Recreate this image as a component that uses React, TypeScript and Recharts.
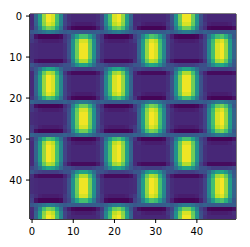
import { ReferenceArea, Scatter, ScatterChart, XAxis, YAxis } from "recharts";

// colormap position in percent; A rows have bars over columns 4/21/37, B rows over 12/29/46
const aCore = [12,32,55,84,99,94,70,46,20, 13,11,11,11,11,11,11,13, 20,46,70,94,99,84,55,32,12, 12,11,11,11,11,11,11,14, 25,50,78,98,98,78,50,25, 14,11,11,11,11,11,11,12];
const aShoulder = [12,31,54,82,95,90,68,45,20, 14,9,8,8,8,8,9,14, 20,45,68,90,95,82,54,31,12, 13,9,8,8,8,8,9,16, 24,49,76,94,94,76,49,24, 16,9,8,8,8,8,9,13];
const aNear = [12,28,49,76,89,85,63,40,16, 7,3,3,3,3,3,3,7, 16,40,63,85,89,76,49,28,12, 5,3,3,3,3,3,3,10, 19,44,70,88,88,70,44,19, 10,3,3,3,3,3,3,5];
const aEdge = [13,27,46,70,80,76,58,38,17, 8,2,1,1,1,1,2,8, 17,38,58,76,80,70,46,27,13, 4,1,1,1,1,1,2,13, 20,42,64,78,78,64,42,20, 13,2,1,1,1,1,1,4];
const aFade = [15,27,44,62,72,68,54,37,19, 9,2,1,1,1,1,2,9, 19,37,54,68,72,62,44,27,15, 5,1,1,1,1,1,3,15, 21,40,58,70,70,58,40,21, 15,3,1,1,1,1,1,5];
const aRim = [20,27,38,52,60,57,47,34,24, 24,20,18,18,18,18,20,24, 24,34,47,57,60,52,38,27,20, 22,19,18,18,18,18,21,25, 25,36,49,58,58,49,36,25, 25,21,18,18,18,18,19,22];
const aLine = [27,30,34,38,42,40,36,31,28, 30,29,28,28,28,28,29,30, 28,31,36,40,42,38,34,30,27, 29,28,28,28,28,28,29,31, 28,32,37,41,41,37,32,28, 31,29,28,28,28,28,28,29];

const bCore = [13,12,11,11,11,11,11,11,14, 25,50,78,98,98,78,50,25, 14,11,11,11,11,11,11,12,13, 32,55,84,99,94,70,46,20, 13,11,11,11,11,11,11,13, 20,46,70,94,99,84,55,32];
const bShoulder = [17,13,9,8,8,8,8,9,16, 24,49,76,94,94,76,49,24, 16,9,8,8,8,8,9,13,17, 31,54,82,95,90,68,45,20, 14,9,8,8,8,8,9,14, 20,45,68,90,95,82,54,31];
const bNear = [14,5,3,3,3,3,3,3,10, 19,44,70,88,88,70,44,19, 10,3,3,3,3,3,3,5,14, 28,49,76,89,85,63,40,16, 7,3,3,3,3,3,3,7, 16,40,63,85,89,76,49,28];
const bEdge = [17,4,1,1,1,1,1,2,13, 20,42,64,78,78,64,42,20, 13,2,1,1,1,1,1,4,17, 27,46,70,80,76,58,38,17, 8,2,1,1,1,1,2,8, 17,38,58,76,80,70,46,27];
const bFade = [19,5,1,1,1,1,1,3,15, 21,40,58,70,70,58,40,21, 15,3,1,1,1,1,1,5,19, 27,44,62,72,68,54,37,19, 9,2,1,1,1,1,2,9, 19,37,54,68,72,62,44,27];
const bRim = [27,22,19,18,18,18,18,21,25, 25,36,49,58,58,49,36,25, 25,21,18,18,18,18,19,22,27, 27,38,52,60,57,47,34,24, 24,20,18,18,18,18,20,24, 24,34,47,57,60,52,38,27];
const bLine = [32,29,28,28,28,28,28,29,31, 28,32,37,41,41,37,32,28, 31,29,28,28,28,28,28,29,32, 30,34,38,42,40,36,31,28, 30,29,28,28,28,28,29,30, 28,31,36,40,42,38,34,30];

const rows = [
  aCore, aCore, aShoulder, aEdge, aLine,
  bFade, bShoulder, bCore, bCore, bCore, bCore, bNear, bRim,
  aRim, aNear, aCore, aCore, aCore, aCore, aShoulder, aFade,
  bLine, bEdge, bShoulder, bCore, bCore, bCore, bShoulder, bEdge, bLine,
  aFade, aShoulder, aCore, aCore, aCore, aCore, aNear, aRim,
  bRim, bNear, bCore, bCore, bCore, bCore, bShoulder, bFade,
  aLine, aEdge, aShoulder, aCore,
];

const ticks = [0, 10, 20, 30, 40];
const viridis = ["#440154", "#482475", "#414487", "#355f8d", "#2a788e", "#21918c", "#22a884", "#44bf70", "#7ad151", "#bddf26", "#fde725"];

const cells = rows.flatMap((row, y) => row.map((value, x) => ({ x, y, value })));

const channel = (hex: string, i: number) => parseInt(hex.slice(1 + i * 2, 3 + i * 2), 16);

function colorOf(value: number) {
  const pos = value / 10;
  const low = Math.min(Math.floor(pos), 9);
  const t = pos - low;
  const rgb = [0, 1, 2].map((i) => Math.round(channel(viridis[low], i) * (1 - t) + channel(viridis[low + 1], i) * t));
  return `rgb(${rgb.join(",")})`;
}

const cellSize = 4.13;

function HeatCell(props: any) {
  const { cx, cy, payload } = props;
  return <rect x={cx - cellSize / 2} y={cy - cellSize / 2} width={cellSize + 0.3} height={cellSize + 0.3} fill={colorOf(payload.value)} shapeRendering="crispEdges" />;
}

const tickStyle = { fontFamily: "DejaVu Sans", fontSize: 10, fill: "#000" };

export default function App() {
  return (
    <div style={{ position: "absolute", left: 0, top: 0 }}>
      <ScatterChart width={250} height={247} margin={{ top: 14, right: 14, bottom: 0, left: 0 }}>
        <XAxis
          type="number"
          dataKey="x"
          domain={[-0.5, 49.5]}
          ticks={ticks}
          allowDataOverflow
          height={28}
          tick={tickStyle}
          tickSize={4}
          tickMargin={5}
          stroke="#000"
          interval={0}
        />
        <YAxis
          type="number"
          dataKey="y"
          domain={[-0.5, 49.5]}
          ticks={ticks}
          reversed
          allowDataOverflow
          width={30}
          tick={tickStyle}
          tickSize={4}
          tickMargin={4}
          stroke="#000"
          interval={0}
        />
        <Scatter data={cells} shape={HeatCell} isAnimationActive={false} />
        <ReferenceArea x1={-0.5} x2={49.5} y1={-0.5} y2={49.5} fill="none" stroke="#000" strokeWidth={1} />
      </ScatterChart>
    </div>
  );
}
